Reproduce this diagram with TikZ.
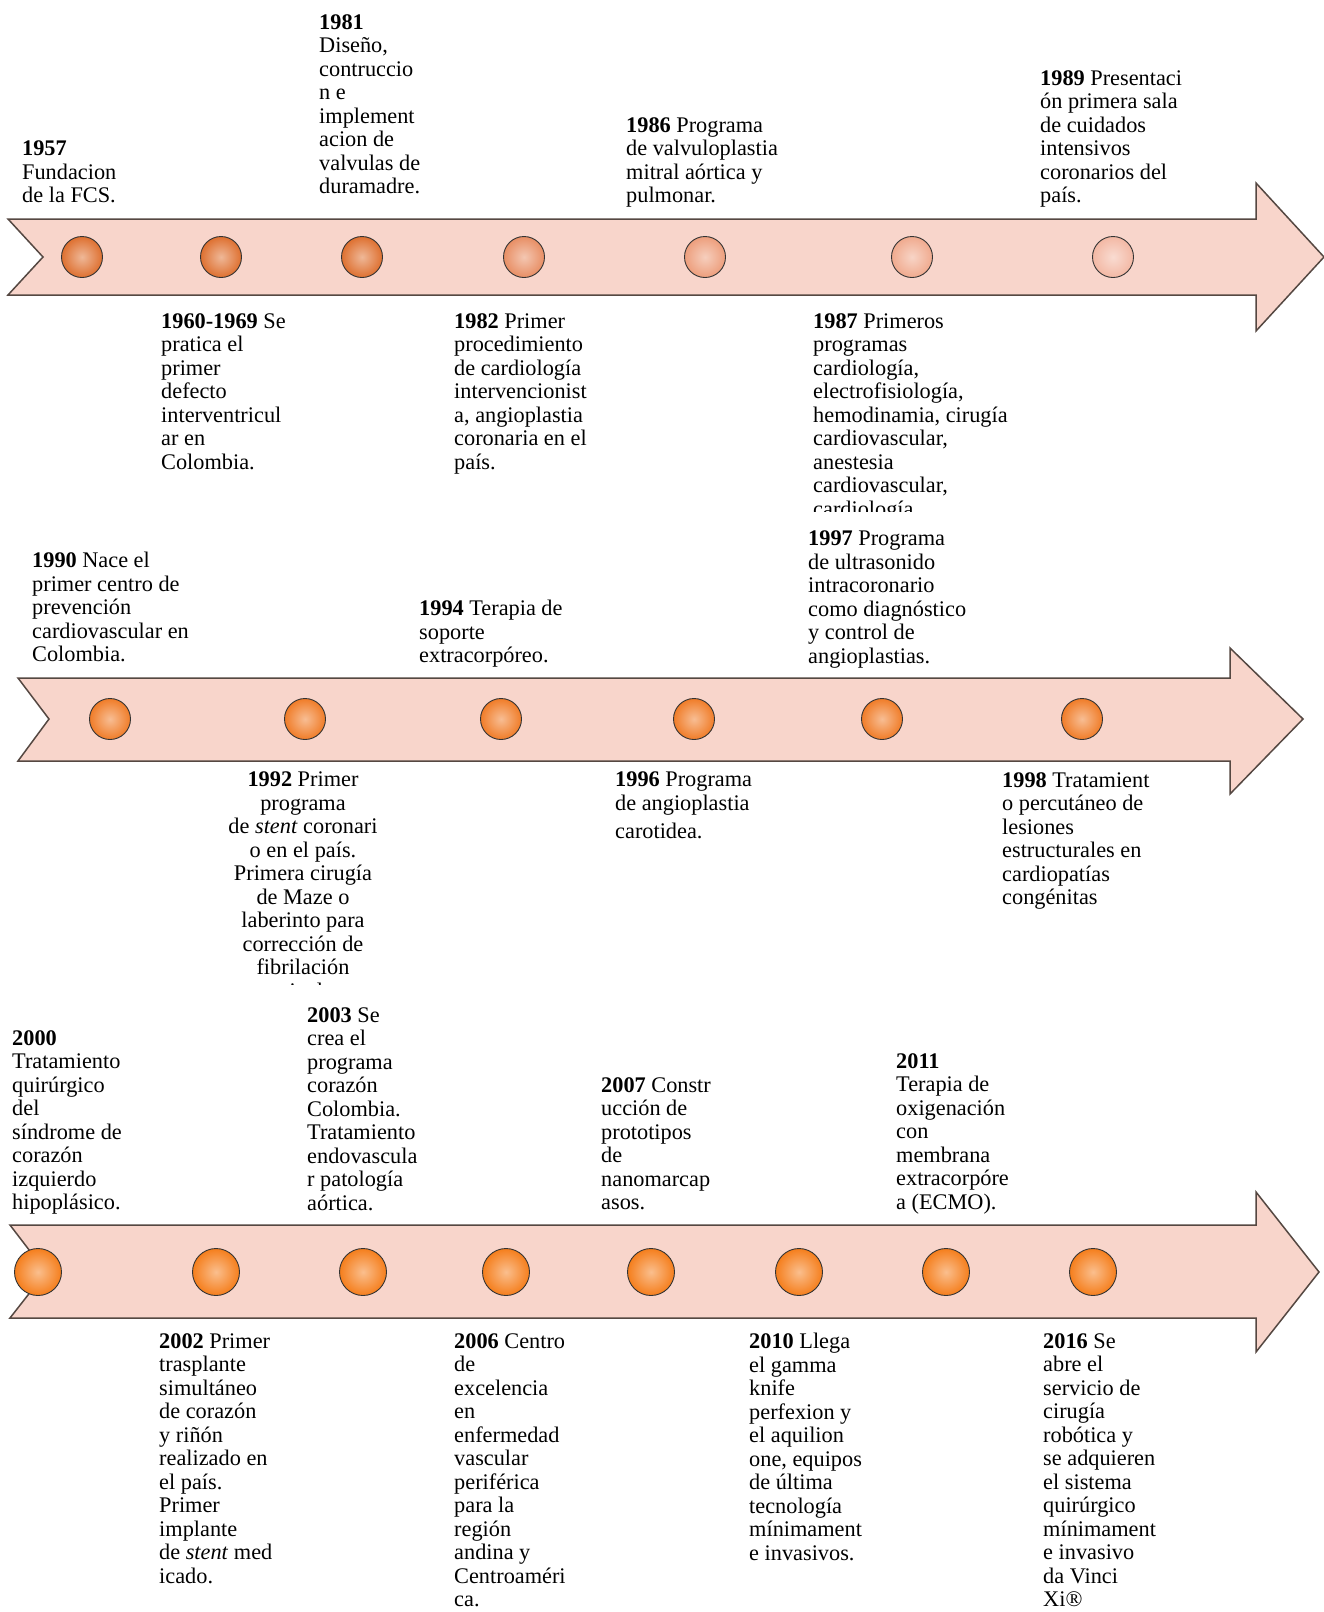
\documentclass[tikz,border=0pt]{standalone}
\usepackage{fontspec}
\setmainfont{Liberation Serif}
\usepackage{tikz}

\definecolor{bandpink}{RGB}{248,213,203}
\definecolor{bandline}{RGB}{85,72,66}
\definecolor{orA}{RGB}{222,112,48}
\definecolor{orB}{RGB}{232,142,100}
\definecolor{orC}{RGB}{237,158,124}
\definecolor{orD}{RGB}{240,170,142}
\definecolor{orE}{RGB}{243,184,164}
\definecolor{orF}{RGB}{240,124,40}
\definecolor{orG}{RGB}{245,126,28}
\newcommand{\evfont}{\fontsize{22.3}{23.5}\selectfont}

\begin{document}
\begin{tikzpicture}[x=1pt,y=-1pt,
  band/.style={fill=bandpink, draw=bandline, line width=1.5pt, line join=miter},
  bead/.style={circle, draw=black!80, line width=0.9pt, minimum size=41pt, inner sep=0pt,
    shade, inner color=#1!50!white, outer color=#1},
  bigbead/.style={bead=#1, minimum size=47pt},
  ev/.style={anchor=north west, align=left, inner sep=0pt, font=\evfont}]
\useasboundingbox (0,0) rectangle (1324,1612);
\fill[white] (0,0) rectangle (1324,1612);

% arrows
\draw[band] (8,219) -- (1256,219) -- (1256,183) -- (1324,257) -- (1256,331) -- (1256,295) -- (8,295) -- (43,257) -- cycle;
\draw[band] (18,678) -- (1230,678) -- (1230,648) -- (1303,719) -- (1230,794) -- (1230,761) -- (18,761) -- (49,719) -- cycle;
\draw[band] (10,1225) -- (1256,1225) -- (1256,1192) -- (1319,1272) -- (1256,1352) -- (1256,1318) -- (10,1318) -- (46,1272) -- cycle;

% beads
\node[bead=orA] (b1957) at (82,257) {};
\node[bead=orA] (b1960) at (221,257) {};
\node[bead=orA] (b1981) at (362,257) {};
\node[bead=orB] (b1982) at (524,257) {};
\node[bead=orC] (b1986) at (705,257) {};
\node[bead=orD] (b1987) at (912,257) {};
\node[bead=orE] (b1989) at (1113,257) {};

\node[bead=orF] (b1990) at (110,719) {};
\node[bead=orF] (b1992) at (305,719) {};
\node[bead=orF] (b1994) at (501,719) {};
\node[bead=orF] (b1996) at (694,719) {};
\node[bead=orF] (b1997) at (882,719) {};
\node[bead=orF] (b1998) at (1082,719) {};

\node[bigbead=orG] (b2000) at (38,1272) {};
\node[bigbead=orG] (b2002) at (216,1272) {};
\node[bigbead=orG] (b2003) at (363,1272) {};
\node[bigbead=orG] (b2006) at (506,1272) {};
\node[bigbead=orG] (b2007) at (651,1272) {};
\node[bigbead=orG] (b2010) at (799,1272) {};
\node[bigbead=orG] (b2011) at (946,1272) {};
\node[bigbead=orG] (b2016) at (1093,1272) {};

% first row
\node[ev] (t1957) at (22,141) {\textbf{1957}\\Fundacion\\de la FCS.};
\node[ev] (t1981) at (319,14) {\textbf{1981}\\Diseño,\\contruccio\\n e\\implement\\acion de\\valvulas de\\duramadre.};
\node[ev] (t1986) at (626,117) {\textbf{1986} Programa\\de valvuloplastia\\mitral aórtica y\\pulmonar.};
\node[ev] (t1989) at (1040,70) {\textbf{1989} Presentaci\\ón primera sala\\de cuidados\\intensivos\\coronarios del\\país.};
\node[ev] (t1960) at (161,313) {\textbf{1960-1969} Se\\pratica el\\primer\\defecto\\interventricul\\ar en\\Colombia.};
\node[ev] (t1982) at (454,313) {\textbf{1982} Primer\\procedimiento\\de cardiología\\intervencionist\\a, angioplastia\\coronaria en el\\país.};
\begin{scope}
\clip (700,290) rectangle (1100,511);
\node[ev] (t1987) at (813,313) {\textbf{1987} Primeros\\programas\\cardiología,\\electrofisiología,\\hemodinamia, cirugía\\cardiovascular,\\anestesia\\cardiovascular,\\cardiología};
\end{scope}

% second row
\node[ev] (t1990) at (32,552) {\textbf{1990} Nace el\\primer centro de\\prevención\\cardiovascular en\\Colombia.};
\node[ev] (t1994) at (419,600) {\textbf{1994} Terapia de\\soporte\\extracorpóreo.};
\node[ev] (t1997) at (808,531) {\textbf{1997} Programa\\de ultrasonido\\intracoronario\\como diagnóstico\\y control de\\angioplastias.};
\begin{scope}
\clip (150,760) rectangle (460,984);
\node[ev, anchor=north, align=center] (t1992) at (303,772) {\textbf{1992} Primer\\programa\\de \textit{stent} coronari\\o en el país.\\Primera cirugía\\de Maze o\\laberinto para\\corrección de\\fibrilación\\auricular.};
\end{scope}
\node[ev] (t1996) at (615,772) {\textbf{1996} Programa\\de angioplastia\\[5pt]carotidea.};
\node[ev] (t1998) at (1002,772) {\textbf{1998} Tratamient\\o percutáneo de\\lesiones\\estructurales en\\cardiopatías\\congénitas};

% third row
\node[ev] (t2000) at (12,1030) {\textbf{2000}\\Tratamiento\\quirúrgico\\del\\síndrome de\\corazón\\izquierdo\\hipoplásico.};
\node[ev] (t2003) at (307,1007) {\textbf{2003} Se\\crea el\\programa\\corazón\\Colombia.\\Tratamiento\\endovascula\\r patología\\aórtica.};
\node[ev] (t2007) at (601,1077) {\textbf{2007} Constr\\ucción de\\prototipos\\de\\nanomarcap\\asos.};
\node[ev] (t2011) at (896,1053) {\textbf{2011}\\Terapia de\\oxigenación\\con\\membrana\\extracorpóre\\a (ECMO).};
\node[ev] (t2002) at (159,1333) {\textbf{2002} Primer\\trasplante\\simultáneo\\de corazón\\y riñón\\realizado en\\el país.\\Primer\\implante\\de \textit{stent} med\\icado.};
\node[ev] (t2006) at (454,1333) {\textbf{2006} Centro\\de\\excelencia\\en\\enfermedad\\vascular\\periférica\\para la\\región\\andina y\\Centroaméri\\ca.};
\node[ev] (t2010) at (749,1333) {\textbf{2010} Llega\\el gamma\\knife\\perfexion y\\el aquilion\\one, equipos\\de última\\tecnología\\mínimament\\e invasivos.};
\node[ev] (t2016) at (1043,1333) {\textbf{2016} Se\\abre el\\servicio de\\cirugía\\robótica y\\se adquieren\\el sistema\\quirúrgico\\mínimament\\e invasivo\\da Vinci\\Xi®};
\end{tikzpicture}
\end{document}
